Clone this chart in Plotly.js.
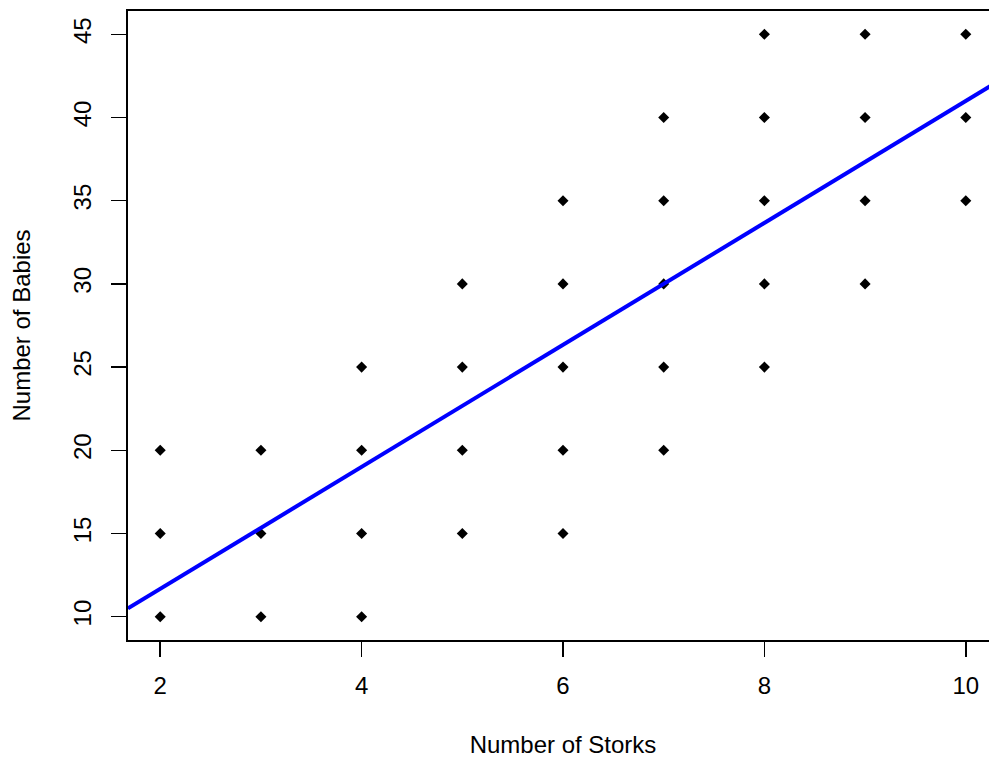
<!DOCTYPE html>
<html>
<head>
<meta charset="utf-8">
<script src="https://cdn.plot.ly/plotly-3.0.1.min.js"></script>
<style>
html, body { margin: 0; padding: 0; overflow: hidden; background: #fff; }
#chart { width: 1000px; height: 758px; }
</style>
</head>
<body>
<div id="chart"></div>
<script>
// Data
const storks = [2, 2, 2, 3, 3, 3, 4, 4, 4, 4, 5, 5, 5, 5, 6, 6, 6, 6, 6,
                7, 7, 7, 7, 7, 8, 8, 8, 8, 8, 9, 9, 9, 9, 10, 10, 10];
const babies = [10, 15, 20, 10, 15, 20, 10, 15, 20, 25, 15, 20, 25, 30, 15, 20, 25, 30, 35,
                20, 25, 30, 35, 40, 25, 30, 35, 40, 45, 30, 35, 40, 45, 35, 40, 45];
// Fitted line end points
const fitX = [1.68, 10.32];
const fitY = [10.50, 42.17];
const xTicks = [2, 4, 6, 8, 10];
const yTicks = [10, 15, 20, 25, 30, 35, 40, 45];

const font = "Liberation Sans, Arial, Helvetica, sans-serif";
const fs = 24;

const traces = [
  {
    x: storks, y: babies, type: 'scatter', mode: 'markers',
    marker: { symbol: 'diamond', size: 8.5, color: '#000000', line: { width: 0 } },
    showlegend: false, cliponaxis: true
  },
  {
    x: fitX, y: fitY, type: 'scatter', mode: 'lines',
    line: { color: '#0000ff', width: 4 },
    showlegend: false, cliponaxis: true
  }
];

const layout = {
  width: 1000, height: 758,
  margin: { l: 128, r: 2, t: 11, b: 118 },
  paper_bgcolor: '#ffffff', plot_bgcolor: '#ffffff',
  font: { family: font, size: fs, color: '#000000' },
  xaxis: {
    range: [1.68, 10.32], tickmode: 'array', tickvals: xTicks, ticktext: xTicks.map(String),
    showgrid: false, zeroline: false,
    showline: true, mirror: true, linecolor: '#000000', linewidth: 2,
    ticks: 'outside', ticklen: 15, tickwidth: 1.5, tickcolor: '#000000',
    ticklabelstandoff: 8,
    tickfont: { family: font, size: fs, color: '#000000' },
    title: { text: 'Number of Storks', font: { family: font, size: fs, color: '#000000' }, standoff: 38 },
    automargin: false
  },
  yaxis: {
    range: [8.6, 46.4], tickmode: 'array', tickvals: yTicks, ticktext: yTicks.map(String),
    tickangle: -90,
    showgrid: false, zeroline: false,
    showline: true, mirror: true, linecolor: '#000000', linewidth: 2,
    ticks: 'outside', ticklen: 15, tickwidth: 1.5, tickcolor: '#000000',
    ticklabelstandoff: 10,
    tickfont: { family: font, size: fs, color: '#000000' },
    title: { text: 'Number of Babies', font: { family: font, size: fs, color: '#000000' }, standoff: 32 },
    automargin: false
  }
};

Plotly.newPlot('chart', traces, layout, { displayModeBar: false, staticPlot: true });
</script>
</body>
</html>
